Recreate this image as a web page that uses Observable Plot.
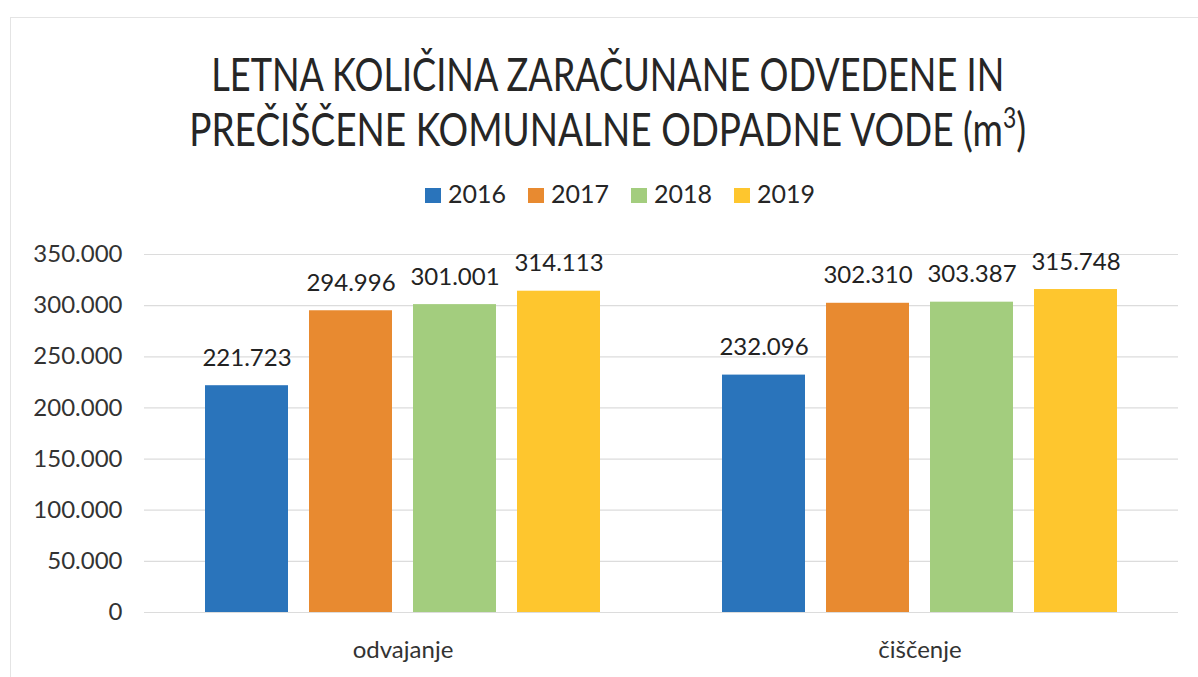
<!DOCTYPE html>
<html>
<head>
<meta charset="utf-8">
<script src="https://cdn.jsdelivr.net/npm/d3@7"></script>
<script src="https://cdn.jsdelivr.net/npm/@observablehq/plot@0.6"></script>
<style>
  html, body { margin: 0; padding: 0; background: #fff; }
  body { width: 1198px; height: 677px; position: relative; overflow: hidden; font-family: "Lato", sans-serif; color: #262626; }
  .frame { position: absolute; left: 10px; top: 17px; width: 1300px; height: 800px; border-left: 1px solid #e4e4e4; border-top: 1px solid #e4e4e4; }
  .tline { position: absolute; left: 9px; width: 1198px; text-align: center; font-size: 47px; line-height: 47px; white-space: nowrap; color: #262626; font-weight: 400; }
  .tline span.inner { display: inline-block; transform-origin: center; }
  sup { font-size: 0.62em; line-height: 0; vertical-align: 0.62em; }
  .legend { position: absolute; left: 425px; top: 181px; display: flex; align-items: center; font-size: 25px; line-height: 25px; color: #262626; }
  .legend .item { display: flex; align-items: center; margin-right: 22px; }
  .legend .sw { width: 16px; height: 15px; margin-right: 7px; margin-top: 3px; }
  #chart { position: absolute; left: 0; top: 230px; }
</style>
</head>
<body>
<div class="frame"></div>
<div class="tline" style="top:50px"><span class="inner" data-w="793">LETNA KOLIČINA ZARAČUNANE ODVEDENE IN</span></div>
<div class="tline" style="top:105px"><span class="inner" data-w="837">PREČIŠČENE KOMUNALNE ODPADNE VODE (m<sup>3</sup>)</span></div>
<div class="legend" id="legend"></div>
<div id="chart"></div>
<script>
const categories = ["odvajanje", "čiščenje"];
const years = ["2016", "2017", "2018", "2019"];
const odvajanje = [221723, 294996, 301001, 314113];
const ciscenje = [232096, 302310, 303387, 315748];
const colors = ["#2A74BB", "#E88A30", "#A3CD7E", "#FEC62E"];
const yTicks = [0, 50000, 100000, 150000, 200000, 250000, 300000, 350000];

const series = [odvajanje, ciscenje];
const data = [];
categories.forEach((c, ci) => years.forEach((y, yi) => data.push({cat: c, year: y, value: series[ci][yi]})));

const loc = d3.formatLocale({decimal: ",", thousands: ".", grouping: [3], currency: ["", ""]});
const fmt = loc.format(",");

// title width fitting
document.querySelectorAll(".tline .inner").forEach(el => {
  const w = el.getBoundingClientRect().width;
  const target = +el.dataset.w;
  el.style.transform = `scaleX(${target / w})`;
});

// legend
const legend = document.getElementById("legend");
years.forEach((y, i) => {
  const it = document.createElement("div");
  it.className = "item";
  it.innerHTML = `<div class="sw" style="background:${colors[i]}"></div><span>${y}</span>`;
  legend.appendChild(it);
});

const chart = Plot.plot({
  width: 1198,
  height: 447,
  marginTop: 24,
  marginBottom: 65,
  marginLeft: 143,
  marginRight: 20,
  style: {fontFamily: "Lato", fontSize: "24px", color: "#333", background: "transparent"},
  fx: {domain: categories, padding: 0},
  x: {domain: years, paddingInner: 0.2, paddingOuter: 0.58, axis: null},
  y: {domain: [0, 350000]},
  color: {domain: years, range: colors},
  marks: [
    Plot.gridY({ticks: yTicks, stroke: "#dcdcdc", strokeOpacity: 1, strokeWidth: 1.2}),
    Plot.axisY({ticks: yTicks, tickSize: 0, tickPadding: 22, tickFormat: fmt, label: null}),
    Plot.axisFx({anchor: "bottom", tickSize: 0, tickPadding: 28, label: null}),
    Plot.barY(data, {fx: "cat", x: "year", y: "value", fill: "year"}),
    Plot.text(data, {fx: "cat", x: "year", y: "value", text: d => fmt(d.value), lineAnchor: "bottom", dy: -20, fill: "#222"})
  ]
});
document.getElementById("chart").appendChild(chart);
</script>
</body>
</html>
